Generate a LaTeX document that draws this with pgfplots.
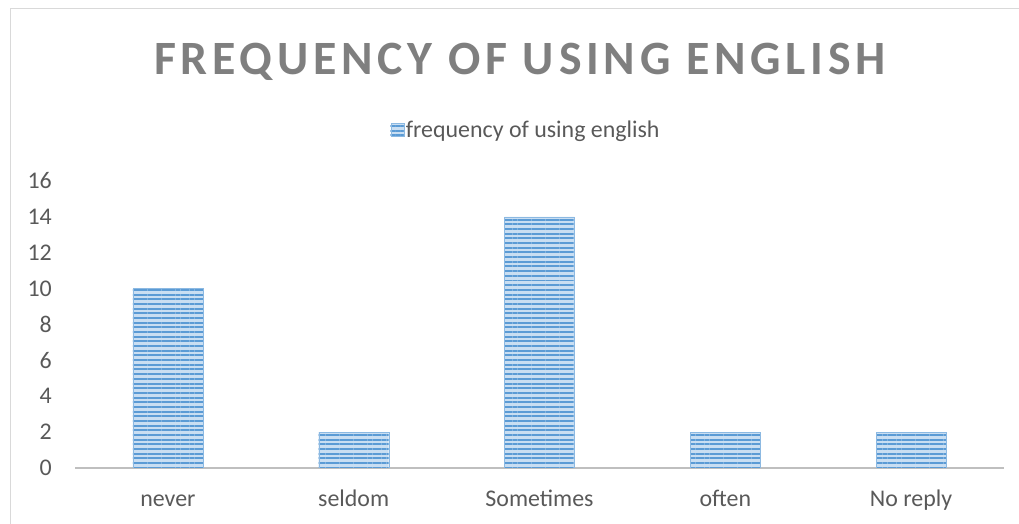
\documentclass[border=0pt]{standalone}
\usepackage{fontspec}
\setmainfont{Carlito}
\usepackage{pgfplots}
\pgfplotsset{compat=1.18}
\usetikzlibrary{patterns.meta}
\definecolor{txt}{HTML}{595959}
\definecolor{ttl}{HTML}{7F7F7F}
\definecolor{barblue}{HTML}{5B9BD5}
\definecolor{barlight}{HTML}{C9DEF2}
\definecolor{axgray}{HTML}{BFBFBF}
\definecolor{brd}{HTML}{D9D9D9}
\newfontfamily\titlefont[LetterSpace=10]{Carlito}
\begin{document}
\begin{tikzpicture}[x=1bp,y=1bp]
\path[use as bounding box] (0,0) rectangle (1019,524);
\draw[brd, line width=1.5bp] (10.5,0) -- (10.5,515.5) -- (1019,515.5);
\node[text=ttl, font=\titlefont\bfseries\fontsize{48}{54}\selectfont] at (520,462) {FREQUENCY OF USING ENGLISH};
\begin{axis}[
  at={(75bp,56bp)}, anchor=south west,
  scale only axis, width=929bp, height=287bp,
  xmin=-0.5, xmax=4.5, ymin=0, ymax=16,
  enlarge y limits=false,
  axis x line=bottom, axis y line=left,
  x axis line style={axgray, line width=2.5bp, -},
  y axis line style={draw=none},
  major tick length=0pt,
  xtick=data,
  xticklabels={never,seldom,Sometimes,often,No reply},
  ytick={0,2,...,16},
  /pgf/number format/assume math mode=true,
  tick label style={font=\fontsize{24}{28}\selectfont, text=txt},
  yticklabel style={anchor=east, inner sep=0pt, xshift=-23bp},
  xticklabel style={anchor=base, inner sep=0pt, yshift=-39bp},
  legend style={at={(0.4855,1.178)}, anchor=center, draw=none, fill=none,
    font=\fontsize{24}{28}\selectfont, text=txt, inner sep=0pt,
    nodes={inner sep=2bp}},
  legend image code/.code={\draw[fill=barlight, draw=barblue!70, postaction={pattern={Lines[angle=0,distance=4.7pt,line width=2pt]}, pattern color=barblue}] (0bp,-6.5bp) rectangle (13bp,6.5bp);},
]
\addplot[ybar, bar width=70bp, bar shift=0pt, fill=barlight, draw=barblue!70,
  postaction={pattern={Lines[angle=0,distance=4.7pt,line width=2pt]}, pattern color=barblue}]
  coordinates {(0,10) (1,2) (2,14) (3,2) (4,2)};
\addlegendentry{frequency of using english}
\end{axis}
\end{tikzpicture}
\end{document}
